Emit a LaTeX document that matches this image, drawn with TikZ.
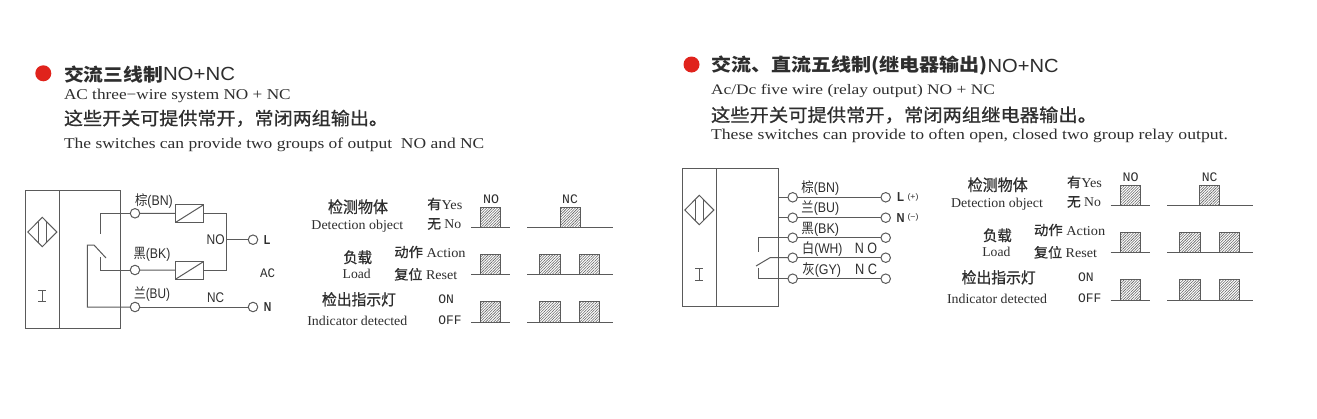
\documentclass[tikz,border=0pt]{standalone}
\usepackage{fontspec}
\usepackage{graphicx}
\usetikzlibrary{patterns.meta}
\setmainfont{Liberation Serif}
\setsansfont{Liberation Sans}
\setmonofont{Liberation Mono}
\newfontfamily\zh{Noto Sans CJK SC}
\newfontfamily\zhm[FakeBold=0.7]{Noto Sans CJK SC}
\definecolor{ink}{HTML}{2E2E2E}
\definecolor{wirec}{HTML}{5A5A5A}
\definecolor{redb}{HTML}{E0231C}
\newcommand\fs[1]{\fontsize{#1}{#1}\selectfont}
% name, x, y, anchor, width, content
\newcommand\tx[6]{\node[txt,anchor=#4] (#1) at (#2,#3) {\resizebox{#5pt}{\height}{#6}};}
\newcommand\wave[4]{% x0 x1 top base
  \draw[hatchbox] (#1,#4) rectangle (#2,#3);}
\newcommand\timing[1]{%
  \tx{#1a}{358}{206.7}{center}{60}{\fs{16}\zhm 检测物体}
  \tx{#1b}{357.3}{226.2}{center}{91.7}{\fs{13.5}Detection object}
  \tx{#1c}{357.7}{257.3}{center}{28.7}{\fs{15}\zhm 负载}
  \tx{#1d}{356.7}{273.7}{center}{28}{\fs{13.5}Load}
  \tx{#1e}{359}{299.3}{center}{74}{\fs{15.5}\zhm 检出指示灯}
  \tx{#1f}{357.3}{321.3}{center}{100}{\fs{13.5}Indicator detected}
  \tx{#1g}{427.3}{204}{west}{35}{\fs{13.5}{\zhm 有}Yes}
  \tx{#1h}{427.3}{224}{west}{34}{\fs{13.5}{\zhm 无} No}
  \tx{#1i}{394.3}{252}{west}{71.3}{\fs{13.5}{\zhm 动作} Action}
  \tx{#1j}{394.3}{274.3}{west}{63}{\fs{13.5}{\zhm 复位} Reset}
  \tx{#1k}{438.3}{299.3}{west}{15.7}{\fs{13}\ttfamily ON}
  \tx{#1l}{438.3}{320}{west}{23.3}{\fs{13}\ttfamily OFF}
  \tx{#1m}{491}{199}{center}{16}{\fs{13}\ttfamily NO}
  \tx{#1n}{570}{199}{center}{15.7}{\fs{13}\ttfamily NC}
  \draw[base] (471,227.7) -- (510.3,227.7);
  \draw[base] (527.3,227.7) -- (613.3,227.7);
  \draw[base] (471,274.7) -- (510.3,274.7);
  \draw[base] (527.3,274.7) -- (613.3,274.7);
  \draw[base] (471,322.3) -- (510.3,322.3);
  \draw[base] (527.3,322.3) -- (613.3,322.3);
  \wave{480.3}{500.7}{207.7}{227.7}
  \wave{560}{580}{207.7}{227.7}
  \wave{480.3}{500.7}{254.7}{274.7}
  \wave{539.3}{560.7}{254.7}{274.7}
  \wave{579.3}{599.7}{254.7}{274.7}
  \wave{480.3}{500.7}{301.7}{322.3}
  \wave{539.3}{560.7}{301.7}{322.3}
  \wave{579.3}{599.7}{301.7}{322.3}
}
\newcommand\sensor[2]{% cx cy of the diamond
  \draw[wire] (#1-14.5,#2) -- (#1,#2-14.7) -- (#1+14.5,#2) -- (#1,#2+14.7) -- cycle;
  \draw[wire] (#1-4,#2-10.5) -- (#1-4,#2+10.5);
  \draw[wire] (#1+3.7,#2-10.5) -- (#1+3.7,#2+10.5);
}
\newcommand\ibeam[3]{% x top bottom
  \draw[wire,line width=.8pt] (#1-4,#2) -- (#1+4,#2) (#1,#2) -- (#1,#3) (#1-4,#3) -- (#1+4,#3);
}
\begin{document}
\begin{tikzpicture}[x=1pt,y=-1pt,
  txt/.style={inner sep=0pt,outer sep=0pt,text=ink},
  wire/.style={draw=wirec,line width=1pt},
  base/.style={draw=wirec,line width=1pt},
  hatchbox/.style={draw=wirec,line width=.9pt,fill=white,
     postaction={pattern={Lines[angle=45,distance=1.9pt,line width=.55pt]},pattern color=black!62}},
  term/.style={circle,draw=wirec,line width=1pt,fill=white,minimum size=9.5pt,inner sep=0pt,outer sep=0pt},
  loadbox/.style={rectangle,draw=wirec,line width=1pt,minimum width=28pt,minimum height=17.6pt,inner sep=0pt,outer sep=0pt},
  senbox/.style={rectangle,draw=wirec,line width=1pt,inner sep=0pt,outer sep=0pt,anchor=north west},
  bullet/.style={circle,fill=redb,minimum size=16pt,inner sep=0pt}]
\useasboundingbox (0,0) rectangle (1317,418);
\fill[white] (0,0) rectangle (1317,418);

%% ---------- left heading
\node[bullet] (dotA) at (43.3,73.3) {};
\tx{ta1}{64}{74.3}{west}{99}{\fs{18}\zh\bfseries 交流三线制}
\tx{ta2}{163}{74.3}{west}{72}{\fs{19}\sffamily NO+NC}
\tx{ta3}{64}{96.2}{west}{226.7}{\fs{15}AC three−wire system NO + NC}
\tx{ta4}{64}{118.3}{west}{324}{\fs{18}\zhm 这些开关可提供常开，常闭两组输出。}
\tx{ta5}{64}{145}{west}{420.3}{\fs{15}The switches can provide two groups of output\ \ NO and NC}

%% ---------- left wiring
\node[senbox,minimum width=95pt,minimum height=137.6pt] (boxA) at (25.7,190.7) {};
\draw[wire] (59,190.7) -- (59,328.3);
\sensor{42.3}{232}
\ibeam{42.3}{290}{301.7}
\node[term] (bn) at (135,213.3) {};
\node[term] (bk) at (135,270) {};
\node[term] (bu) at (135,307) {};
\node[term] (tL) at (253,239.7) {};
\node[term] (tN) at (253,307) {};
\node[loadbox] (l1) at (189.7,213.5) {};
\node[loadbox] (l2) at (189.7,270.3) {};
\draw[wire] (l1.south west) -- (l1.north east);
\draw[wire] (l2.south west) -- (l2.north east);
\coordinate (swA) at (100,234);
\coordinate (swB) at (100,257.3);
\coordinate (swC) at (87.3,245);
\coordinate (swD) at (94,245);
\coordinate (swE) at (106,258);
\coordinate (jn) at (226.7,239.7);
\draw[wire] (bn) -| (swA);
\draw[wire] (bk) -| (swB);
\draw[wire] (bu) -| (swC) -- (swD) -- (swE);
\draw[wire] (bn) -- (l1);
\draw[wire] (bk) -- (l2);
\draw[wire] (l1) -| (jn);
\draw[wire] (l2) -| (jn);
\draw[wire] (jn) -- (tL);
\draw[wire] (bu) -- (tN);
\tx{wa1}{154}{200.7}{center}{37.7}{\fs{14}\sffamily{\zh 棕}(BN)}
\tx{wa2}{152}{254}{center}{36.7}{\fs{14}\sffamily{\zh 黑}(BK)}
\tx{wa3}{152}{294}{center}{36}{\fs{14}\sffamily{\zh 兰}(BU)}
\tx{wa4}{215.7}{239.5}{center}{18}{\fs{14}\sffamily NO}
\tx{wa5}{215.7}{298}{center}{17}{\fs{14}\sffamily NC}
\tx{wa6}{267}{239.7}{center}{6.5}{\fs{13}\sffamily\bfseries L}
\tx{wa7}{267.7}{273}{center}{15}{\fs{13}\ttfamily AC}
\tx{wa8}{267.7}{307}{center}{7.5}{\fs{13}\sffamily\bfseries N}
\timing{pa}

%% ---------- right heading
\node[bullet] (dotB) at (691.5,64.5) {};
\tx{tb1}{711}{65.5}{west}{276.5}{\fs{18}\zh\bfseries 交流、直流五线制(继电器输出)}
\tx{tb2}{987.7}{65.5}{west}{71}{\fs{19}\sffamily NO+NC}
\tx{tb3}{711}{90.5}{west}{284}{\fs{14.5}Ac/Dc five wire (relay output) NO + NC}
\tx{tb4}{711}{115}{west}{386}{\fs{18}\zhm 这些开关可提供常开，常闭两组继电器输出。}
\tx{tb5}{711}{135.5}{west}{517}{\fs{15}These switches can provide to often open, closed two group relay output.}

%% ---------- right wiring
\node[senbox,minimum width=95.6pt,minimum height=137.7pt] (boxB) at (682.7,168.3) {};
\draw[wire] (716,168.3) -- (716,306);
\sensor{699.3}{210}
\ibeam{699.3}{268.3}{280}
\foreach \n/\yy in {a/197.3,b/217.7,c/237.7,d/257.7,e/278.7}{
  \node[term] (lt\n) at (792.7,\yy) {};
  \node[term] (rt\n) at (885.7,\yy) {};
  \draw[wire] (lt\n) -- (rt\n);
}
\draw[wire] (lta) -- (lta -| boxB.east);
\draw[wire] (ltb) -- (ltb -| boxB.east);
\coordinate (sbA) at (758,252.3);
\coordinate (sbB) at (758,268.3);
\coordinate (sbC) at (770,257.7);
\coordinate (sbD) at (756,266);
\draw[wire] (ltc) -| (sbA);
\draw[wire] (lte) -| (sbB);
\draw[wire] (ltd) -- (sbC) -- (sbD);
\tx{wb1}{820.3}{187.7}{center}{37.7}{\fs{14}\sffamily{\zh 棕}(BN)}
\tx{wb2}{820.3}{208.3}{center}{37.7}{\fs{14}\sffamily{\zh 兰}(BU)}
\tx{wb3}{820.3}{229}{center}{37.7}{\fs{14}\sffamily{\zh 黑}(BK)}
\tx{wb4}{822.3}{249.3}{center}{40.3}{\fs{14}\sffamily{\zh 白}(WH)}
\tx{wb5}{821.7}{270.3}{center}{38.7}{\fs{14}\sffamily{\zh 灰}(GY)}
\tx{wb6}{866}{248.3}{center}{22.3}{\fs{15}\sffamily N O}
\tx{wb7}{866}{269}{center}{22}{\fs{15}\sffamily N C}
\tx{wb8}{900.7}{197.3}{center}{7}{\fs{13}\sffamily\bfseries L}
\tx{wb9}{913}{197.3}{center}{11}{\fs{8}\sffamily(+)}
\tx{wb10}{900.7}{217.7}{center}{8}{\fs{13}\sffamily\bfseries N}
\tx{wb11}{913}{217.7}{center}{11}{\fs{8}\sffamily(−)}
\begin{scope}[shift={(639.7,-22)}]
\timing{pb}
\end{scope}
\end{tikzpicture}
\end{document}
